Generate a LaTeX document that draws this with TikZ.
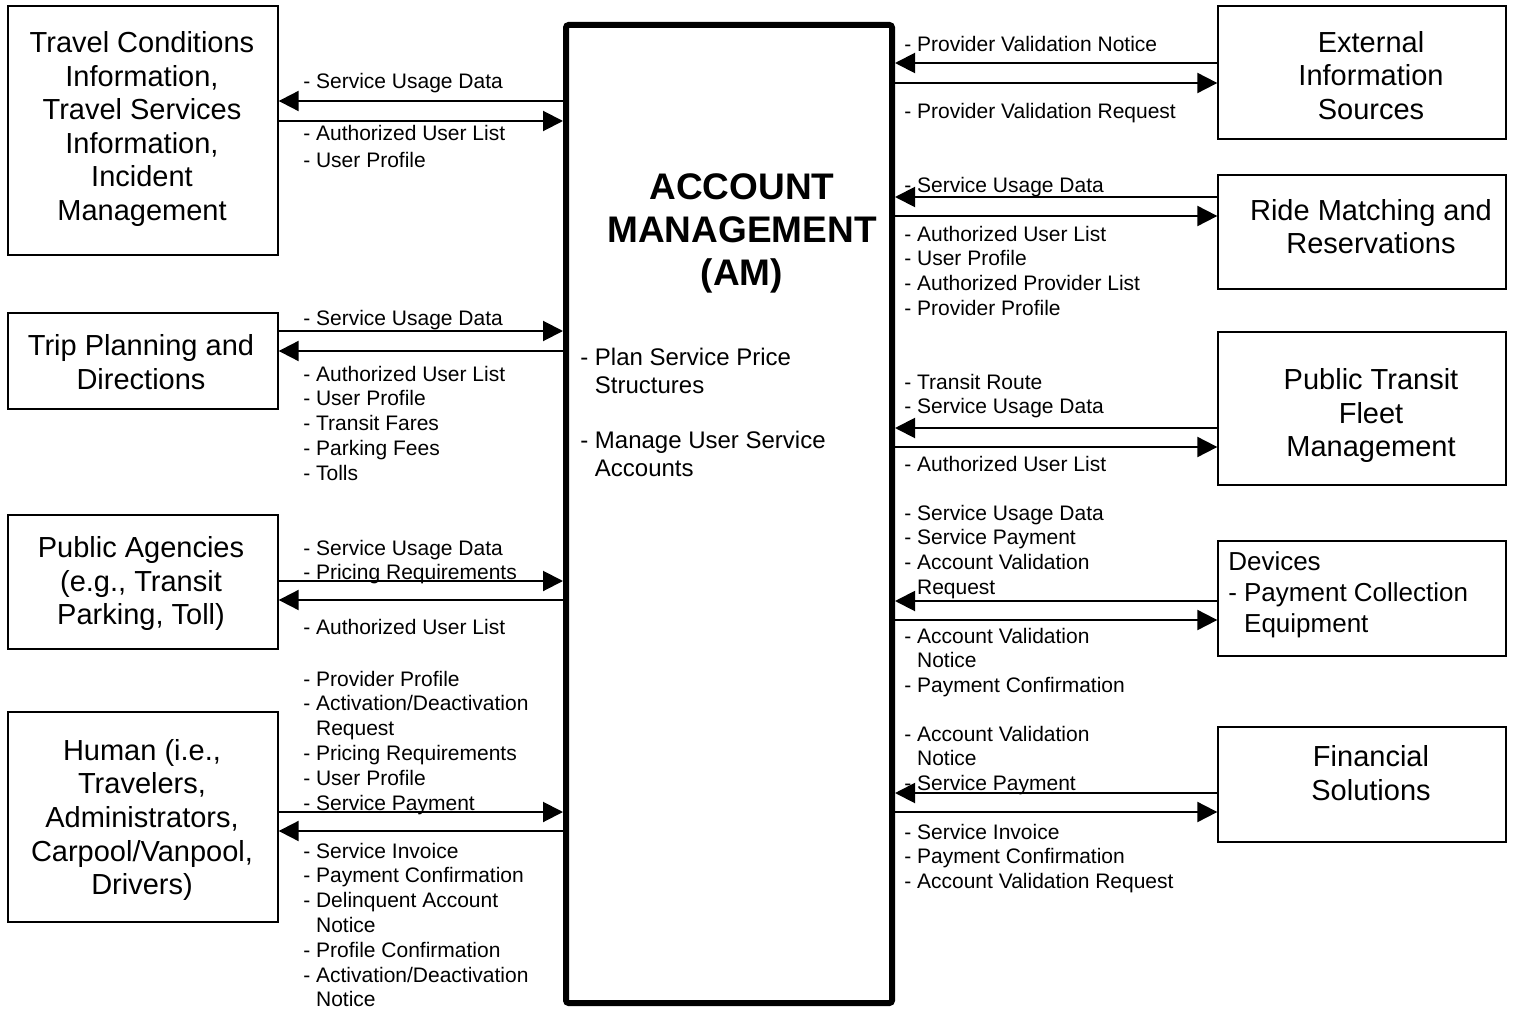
\documentclass[tikz,border=0pt]{standalone}
\usepackage{fontspec}
\setmainfont{Liberation Sans}
\usetikzlibrary{arrows.meta}
\newcommand\ind{\hphantom{-}\ }
\newcommand\lablines[4]{%
  \foreach \txt [count=\i] in {#4}{%
    \node[lbl] (#1-\i) at (#2,{#3+1+(\i-1)*24.8}) {\txt};
  }}
\tikzset{
  box/.style={draw, line width=1pt, rectangle, inner sep=0pt},
  bsize/.style 2 args={minimum width={#1*0.75pt}, minimum height={#2*0.75pt}},
  btext/.style={align=center, inner sep=0pt, font=\fontsize{21.75}{25.2}\selectfont},
  lbl/.style={anchor=base west, inner sep=0pt, font=\fontsize{15.75}{18.6}\selectfont},
  inner/.style={anchor=base west, inner sep=0pt, font=\fontsize{18}{21}\selectfont},
  devtxt/.style={anchor=base west, inner sep=0pt, font=\fontsize{19.5}{23.25}\selectfont},
  arr/.style={line width=1.5pt, -{Triangle[length=15pt,width=15pt]}},
}
\begin{document}
\begin{tikzpicture}[x=0.75pt,y=-0.75pt]
\useasboundingbox (0,0) rectangle (1515,1009);

% central box
\node[draw, line width=4.5pt, rounded corners=2pt, rectangle, inner sep=0pt, bsize={326}{978}] (am) at (729,514) {};
\node[align=center, inner sep=0pt, font=\bfseries\fontsize{27.75}{32.25}\selectfont] (amt) at (742,233) {ACCOUNT\\MANAGEMENT\\(AM)};
\node[inner] (f1) at (580,365) {- Plan Service Price};
\node[inner] (f2) at (580,393) {\ind Structures};
\node[inner] (f3) at (580,448) {- Manage User Service};
\node[inner] (f4) at (580,476) {\ind Accounts};

% left boxes
\node[box, bsize={270}{249}] (tc) at (143,130.5) {};
\node[btext] (tct) at (142,129) {Travel Conditions\\Information,\\Travel Services\\Information,\\Incident\\Management};
\node[box, bsize={270}{96}] (tp) at (143,361) {};
\node[btext] (tpt) at (141,362) {Trip Planning and\\Directions};
\node[box, bsize={270}{134}] (pa) at (143,582) {};
\node[btext] (pat) at (141,583.5) {Public Agencies\\(e.g., Transit\\Parking, Toll)};
\node[box, bsize={270}{210}] (hu) at (143,817) {};
\node[btext] (hut) at (142,820) {Human (i.e.,\\Travelers,\\Administrators,\\Carpool/Vanpool,\\Drivers)};

% right boxes
\node[box, bsize={288}{133}] (ext) at (1362,72.5) {};
\node[btext] (extt) at (1371,75.5) {External\\Information\\Sources};
\node[box, bsize={288}{114}] (ride) at (1362,232) {};
\node[btext] (ridet) at (1371,226.5) {Ride Matching and\\Reservations};
\node[box, bsize={288}{153}] (pt) at (1362,408.5) {};
\node[btext] (ptt) at (1371,415.5) {Public Transit\\Fleet\\Management};
\node[box, bsize={288}{115}] (dev) at (1362,598.5) {};
\node[devtxt] (devt1) at (1228,570.5) {Devices};
\node[devtxt] (devt2) at (1228,601.5) {- Payment Collection};
\node[devtxt] (devt3) at (1228,632.5) {\ind Equipment};
\node[box, bsize={288}{115}] (fin) at (1362,784.5) {};
\node[btext] (fint) at (1371,773) {Financial\\Solutions};

% left arrows
\draw[arr] (am.west |- 0,101) -- (tc.east |- 0,101);
\draw[arr] (tc.east |- 0,121) -- (am.west |- 0,121);
\draw[arr] (tp.east |- 0,331) -- (am.west |- 0,331);
\draw[arr] (am.west |- 0,351) -- (tp.east |- 0,351);
\draw[arr] (pa.east |- 0,581) -- (am.west |- 0,581);
\draw[arr] (am.west |- 0,600) -- (pa.east |- 0,600);
\draw[arr] (hu.east |- 0,812) -- (am.west |- 0,812);
\draw[arr] (am.west |- 0,831) -- (hu.east |- 0,831);

% right arrows
\draw[arr] (ext.west |- 0,63) -- (am.east |- 0,63);
\draw[arr] (am.east |- 0,83) -- (ext.west |- 0,83);
\draw[arr] (ride.west |- 0,197) -- (am.east |- 0,197);
\draw[arr] (am.east |- 0,216) -- (ride.west |- 0,216);
\draw[arr] (pt.west |- 0,428) -- (am.east |- 0,428);
\draw[arr] (am.east |- 0,447) -- (pt.west |- 0,447);
\draw[arr] (dev.west |- 0,601) -- (am.east |- 0,601);
\draw[arr] (am.east |- 0,620) -- (dev.west |- 0,620);
\draw[arr] (fin.west |- 0,793) -- (am.east |- 0,793);
\draw[arr] (am.east |- 0,812) -- (fin.west |- 0,812);

% left labels
\lablines{la1}{303}{88}{- Service Usage Data}
\node[lbl] (lb1-1) at (303,141) {- Authorized User List};
\node[lbl] (lb1-2) at (303,168) {- User Profile};
\lablines{la2}{303}{324}{- Service Usage Data}
\lablines{lb2}{303}{380}{- Authorized User List, - User Profile, - Transit Fares, - Parking Fees, - Tolls}
\lablines{la3}{303}{554}{- Service Usage Data, - Pricing Requirements}
\lablines{lb3}{303}{633}{- Authorized User List}
\lablines{la4}{303}{685}{- Provider Profile, - Activation/Deactivation, \ind Request, - Pricing Requirements, - User Profile, - Service Payment}
\lablines{lb4}{303}{857}{- Service Invoice, - Payment Confirmation, - Delinquent Account, \ind Notice, - Profile Confirmation, - Activation/Deactivation, \ind Notice}

% right labels
\lablines{ra1}{904}{51}{- Provider Validation Notice}
\lablines{rb1}{904}{118}{- Provider Validation Request}
\lablines{ra2}{904}{192}{- Service Usage Data}
\lablines{rb2}{904}{240}{- Authorized User List, - User Profile, - Authorized Provider List, - Provider Profile}
\lablines{ra3}{904}{388}{- Transit Route, - Service Usage Data}
\lablines{rb3}{904}{470}{- Authorized User List}
\lablines{ra4}{904}{519}{- Service Usage Data, - Service Payment, - Account Validation, \ind Request}
\lablines{rb4}{904}{642}{- Account Validation, \ind Notice, - Payment Confirmation}
\lablines{ra5}{904}{740}{- Account Validation, \ind Notice, - Service Payment}
\lablines{rb5}{904}{838}{- Service Invoice, - Payment Confirmation, - Account Validation Request}
\end{tikzpicture}
\end{document}
